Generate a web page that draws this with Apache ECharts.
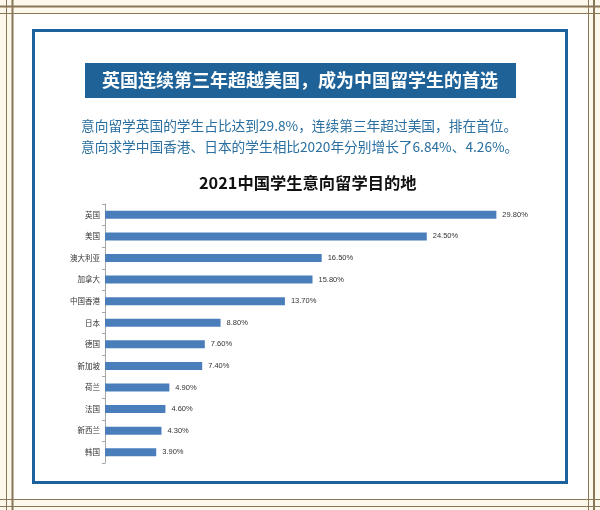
<!DOCTYPE html>
<html>
<head>
<meta charset="utf-8">
<script src="https://cdn.jsdelivr.net/npm/echarts@6/dist/echarts.min.js"></script>
<style>
html,body{margin:0;padding:0;background:#fff;}
#chart{width:600px;height:510px;}
</style>
</head>
<body>
<div id="chart"></div>
<script>
var categories = ['英国','美国','澳大利亚','加拿大','中国香港','日本','德国','新加坡','荷兰','法国','新西兰','韩国'];
var shares = [29.8,24.5,16.5,15.8,13.7,8.8,7.6,7.4,4.9,4.6,4.3,3.9];
var cjk = '"Noto Sans CJK SC","Liberation Sans",sans-serif';
var frameColor = '#8a7758';

// 外框线
function frameLine(x1,y1,x2,y2,w){
  return {type:'line',silent:true,shape:{x1:x1,y1:y1,x2:x2,y2:y2},style:{stroke:frameColor,lineWidth:w}};
}
var graphics = [
  {type:'rect',silent:true,z:-2,shape:{x:0,y:0,width:600,height:510},style:{fill:'#fdf8ec'}},
  {type:'rect',silent:true,z:-1,shape:{x:13,y:14,width:575,height:485},style:{fill:'#ffffff'}},
  frameLine(0,6.5,600,6.5,2),
  frameLine(0,13.5,600,13.5,1),
  frameLine(0,499.5,600,499.5,1),
  frameLine(0,506.5,600,506.5,1),
  frameLine(6.5,0,6.5,510,1),
  frameLine(12.5,0,12.5,510,2),
  frameLine(588.5,0,588.5,510,1),
  frameLine(594,0,594,510,2),
  {type:'rect',silent:true,shape:{x:33.5,y:30.5,width:533,height:452},style:{fill:'none',stroke:'#1b629c',lineWidth:3}},
  {type:'rect',silent:true,shape:{x:85,y:63,width:431,height:35},style:{fill:'#1f6298'}},
  {type:'text',silent:true,style:{x:300,y:80.5,text:'英国连续第三年超越美国，成为中国留学生的首选',fill:'#fff',font:'bold 18px '+cjk,align:'center',verticalAlign:'middle'}},
  {type:'text',silent:true,style:{x:81,y:125.5,text:'意向留学英国的学生占比达到29.8%，连续第三年超过美国，排在首位。',fill:'#2a6f9f',font:'13.7px '+cjk,verticalAlign:'middle'}},
  {type:'text',silent:true,style:{x:81,y:146.5,text:'意向求学中国香港、日本的学生相比2020年分别增长了6.84%、4.26%。',fill:'#2a6f9f',font:'13.7px '+cjk,verticalAlign:'middle'}}
];

var myChart = echarts.init(document.getElementById('chart'));
var option = {
  animation:false,
  backgroundColor:'#fff',
  title:{
    text:'2021中国学生意向留学目的地',
    left:199,
    top:175,
    padding:0,
    textStyle:{fontFamily:cjk,fontSize:16.3,fontWeight:'bold',color:'#111'}
  },
  graphic:graphics,
  grid:{left:105,top:204,width:394,height:259},
  xAxis:{type:'value',min:0,max:30,show:false},
  yAxis:{
    type:'category',
    inverse:true,
    data:categories,
    axisLine:{show:true,lineStyle:{color:'#a6a6a6'}},
    axisTick:{show:true,length:3,lineStyle:{color:'#a6a6a6'}},
    axisLabel:{fontFamily:cjk,fontSize:7.5,color:'#333',margin:5}
  },
  series:[{
    type:'bar',
    data:shares,
    barWidth:8,
    itemStyle:{color:'#4a7ebb'},
    label:{
      show:true,
      position:'right',
      distance:6,
      fontFamily:'"Liberation Sans",sans-serif',
      fontSize:7.5,
      color:'#333',
      formatter:function(p){return p.value.toFixed(2)+'%';}
    }
  }]
};
myChart.setOption(option);
</script>
</body>
</html>
